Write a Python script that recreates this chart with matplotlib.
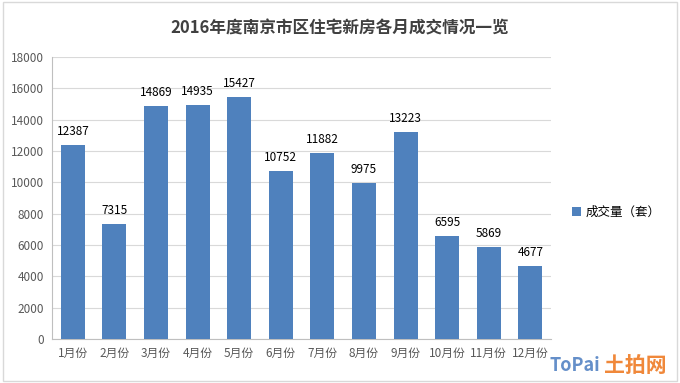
import matplotlib
matplotlib.use("Agg")
import matplotlib.pyplot as plt
from matplotlib.patches import Rectangle

plt.rcParams['font.family'] = ['Noto Sans CJK SC', 'DejaVu Sans']

months = ['1月份', '2月份', '3月份', '4月份', '5月份', '6月份',
          '7月份', '8月份', '9月份', '10月份', '11月份', '12月份']
volume = [12387, 7315, 14869, 14935, 15427, 10752,
          11882, 9975, 13223, 6595, 5869, 4677]
series_name = '成交量（套）'
title = '2016年度南京市区住宅新房各月成交情况一览'

fig = plt.figure(figsize=(6.8, 3.83), dpi=100)
fig.patches.append(Rectangle((0.004, 0.006), 0.992, 0.988, transform=fig.transFigure,
                             fill=False, edgecolor='#d9d9d9', linewidth=1))
ax = fig.add_axes([0.0765, 0.115, 0.734, 0.736])

x = range(len(months))
bars = ax.bar(x, volume, width=0.58, color='#4f81bd', label=series_name, zorder=3)
for xi, v in zip(x, volume):
    ax.text(xi, v + 450, str(v), ha='center', va='bottom', fontsize=8.5, color='#000000')

ax.set_xlim(-0.5, len(months) - 0.5)
ax.set_ylim(0, 18000)
ax.set_yticks(range(0, 18001, 2000))
ax.set_xticks(list(x))
ax.set_xticklabels(months)
ax.tick_params(axis='both', length=0, labelsize=8.5, colors='#595959', pad=6)
ax.grid(axis='y', color='#d9d9d9', linewidth=0.8, zorder=0)
for s in ['top', 'right']:
    ax.spines[s].set_visible(False)
ax.spines['left'].set_color('#bfbfbf')
ax.spines['bottom'].set_color('#bfbfbf')

fig.text(0.5, 0.925, title, ha='center', va='center', fontsize=12,
         fontweight='bold', color='#404040')

fig.legend(handles=[bars], labels=[series_name], loc='center left',
           bbox_to_anchor=(0.825, 0.445), frameon=False, fontsize=9,
           handlelength=0.7, handleheight=0.7, handletextpad=0.4)

# site logo in the bottom-right corner
fig.text(0.808, 0.045, 'ToPai', ha='left', va='center', fontsize=13,
         fontweight='bold', color='#4a7cc0', alpha=0.85)
fig.text(0.888, 0.045, '土拍网', ha='left', va='center', fontsize=15,
         fontweight='bold', color='#f0883a')

fig.savefig('out.png', dpi=100)
